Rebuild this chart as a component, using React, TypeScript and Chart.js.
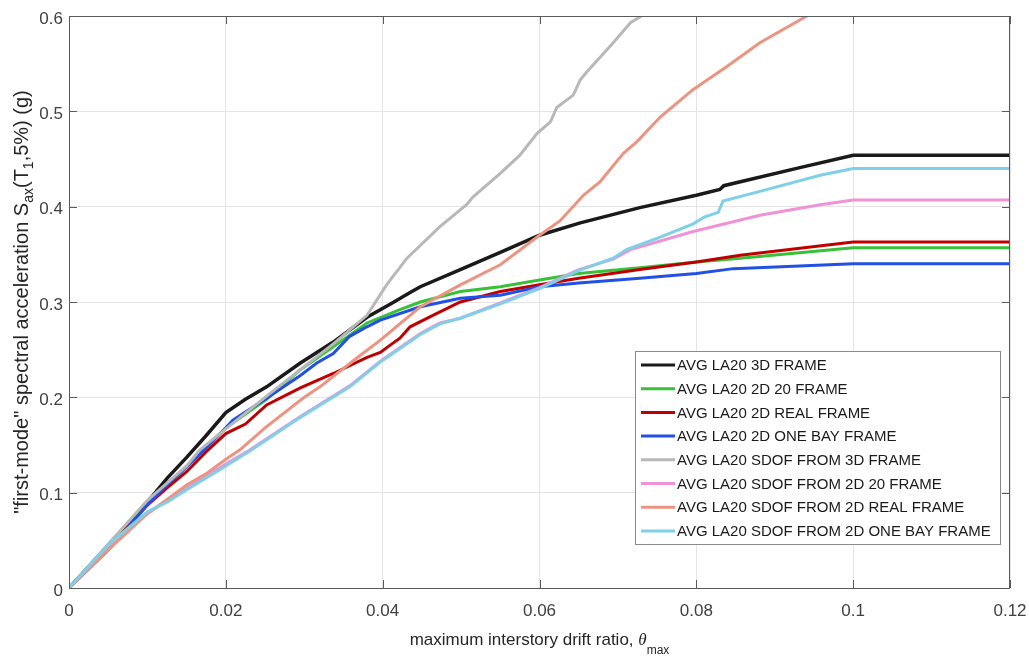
import React, { useEffect, useRef } from 'react';
import { Chart, registerables } from 'chart.js';

Chart.register(...registerables);

const xTicks = [0, 0.02, 0.04, 0.06, 0.08, 0.1, 0.12];
const yTicks = [0, 0.1, 0.2, 0.3, 0.4, 0.5, 0.6];

const seriesNames = [
  'AVG LA20 3D FRAME',
  'AVG LA20 2D 20 FRAME',
  'AVG LA20 2D REAL FRAME',
  'AVG LA20 2D ONE BAY FRAME',
  'AVG LA20 SDOF FROM 3D FRAME',
  'AVG LA20 SDOF FROM 2D 20 FRAME',
  'AVG LA20 SDOF FROM 2D REAL FRAME',
  'AVG LA20 SDOF FROM 2D ONE BAY FRAME',
];

const seriesColors = [
  '#1a1a1a',
  '#38c038',
  '#c00000',
  '#2150e6',
  '#b8b8b8',
  '#ef92d6',
  '#ec9480',
  '#7ecfe8',
];

const frame3D: [number, number][] = [
  [0, 0], [0.005, 0.045], [0.01, 0.09], [0.0125, 0.115], [0.015, 0.137], [0.0175, 0.16],
  [0.02, 0.184], [0.0225, 0.198], [0.0252, 0.211], [0.0295, 0.236], [0.0337, 0.258],
  [0.038, 0.284], [0.041, 0.298], [0.0435, 0.31], [0.0448, 0.316], [0.0499, 0.334], [0.055, 0.352],
  [0.06, 0.37], [0.0652, 0.383], [0.0728, 0.399], [0.08, 0.412], [0.083, 0.418],
  [0.0835, 0.422], [0.0932, 0.441], [0.1, 0.454], [0.12, 0.454],
];

const frame2D20: [number, number][] = [
  [0, 0], [0.005, 0.043], [0.01, 0.088], [0.0125, 0.108], [0.015, 0.128], [0.02, 0.168],
  [0.0252, 0.198], [0.0295, 0.229], [0.0337, 0.253], [0.038, 0.278], [0.0422, 0.292],
  [0.0448, 0.3], [0.0499, 0.311], [0.055, 0.316], [0.06, 0.323], [0.065, 0.33],
  [0.0728, 0.336], [0.08, 0.342], [0.0856, 0.346], [0.1, 0.357], [0.12, 0.357],
];

const frame2DReal: [number, number][] = [
  [0, 0], [0.005, 0.042], [0.01, 0.087], [0.0125, 0.105], [0.015, 0.122], [0.0175, 0.143],
  [0.02, 0.162], [0.0225, 0.172], [0.0252, 0.192], [0.0295, 0.21], [0.0337, 0.225],
  [0.038, 0.242], [0.0397, 0.247], [0.041, 0.255], [0.0422, 0.262], [0.0435, 0.274],
  [0.0464, 0.286], [0.0499, 0.3], [0.055, 0.311], [0.06, 0.318], [0.065, 0.325],
  [0.0728, 0.334], [0.08, 0.342], [0.0856, 0.349], [0.1, 0.363], [0.12, 0.363],
];

const frame2DOneBay: [number, number][] = [
  [0, 0], [0.005, 0.04], [0.01, 0.087], [0.0125, 0.108], [0.015, 0.127], [0.0175, 0.147],
  [0.02, 0.168], [0.0209, 0.176], [0.0252, 0.199], [0.0295, 0.223], [0.0316, 0.236],
  [0.0337, 0.246], [0.0358, 0.264], [0.038, 0.274], [0.0397, 0.281], [0.0448, 0.295],
  [0.0499, 0.304], [0.055, 0.307], [0.06, 0.316], [0.065, 0.32], [0.0728, 0.325],
  [0.08, 0.33], [0.0847, 0.335], [0.1, 0.34], [0.12, 0.34],
];

const sdofFrom3D: [number, number][] = [
  [0, 0], [0.005, 0.046], [0.01, 0.092], [0.0125, 0.11], [0.015, 0.128], [0.0167, 0.145],
  [0.02, 0.167], [0.025, 0.2], [0.0295, 0.229], [0.0337, 0.256], [0.038, 0.286],
  [0.0405, 0.318], [0.0431, 0.346], [0.0473, 0.379], [0.0507, 0.402], [0.0515, 0.41],
  [0.055, 0.435], [0.0575, 0.454], [0.0597, 0.477], [0.0614, 0.489], [0.0622, 0.504],
  [0.0643, 0.517], [0.0652, 0.533], [0.066, 0.541], [0.0694, 0.572], [0.0716, 0.593],
  [0.073, 0.6], [0.0745, 0.61],
];

const sdofFrom2D20: [number, number][] = [
  [0, 0], [0.005, 0.043], [0.01, 0.078], [0.0125, 0.092], [0.015, 0.105], [0.02, 0.13],
  [0.0231, 0.145], [0.0295, 0.18], [0.0358, 0.212], [0.0397, 0.238], [0.0448, 0.267],
  [0.0473, 0.278], [0.0499, 0.283], [0.055, 0.299], [0.06, 0.315], [0.065, 0.334],
  [0.0694, 0.345], [0.0716, 0.355], [0.0796, 0.374], [0.0881, 0.391], [0.0958, 0.402],
  [0.1, 0.407], [0.12, 0.407],
];

const sdofFrom2DReal: [number, number][] = [
  [0, 0], [0.005, 0.04], [0.01, 0.078], [0.0125, 0.093], [0.015, 0.108], [0.0175, 0.12],
  [0.02, 0.135], [0.0218, 0.145], [0.025, 0.168], [0.03, 0.2], [0.032, 0.211],
  [0.0365, 0.24], [0.0397, 0.26], [0.0448, 0.295], [0.0499, 0.318], [0.055, 0.339],
  [0.06, 0.37], [0.0626, 0.385], [0.0656, 0.412], [0.0677, 0.426], [0.0707, 0.456],
  [0.0724, 0.468], [0.0754, 0.494], [0.0796, 0.523], [0.0839, 0.547], [0.0881, 0.572],
  [0.0941, 0.6], [0.096, 0.608],
];

const sdofFrom2DOneBay: [number, number][] = [
  [0, 0], [0.005, 0.045], [0.01, 0.08], [0.0125, 0.09], [0.015, 0.103], [0.02, 0.128],
  [0.0231, 0.144], [0.0295, 0.179], [0.0358, 0.211], [0.0397, 0.237], [0.0448, 0.266],
  [0.0473, 0.277], [0.0499, 0.283], [0.055, 0.298], [0.06, 0.314], [0.065, 0.333],
  [0.0694, 0.346], [0.0711, 0.355], [0.0754, 0.368], [0.0796, 0.382], [0.081, 0.389],
  [0.0828, 0.394], [0.0834, 0.406], [0.0881, 0.416], [0.0958, 0.433], [0.1, 0.44],
  [0.12, 0.44],
];

const seriesData = [
  frame3D, frame2D20, frame2DReal, frame2DOneBay,
  sdofFrom3D, sdofFrom2D20, sdofFrom2DReal, sdofFrom2DOneBay,
];

const FONT = '"Liberation Sans", Arial, Helvetica, sans-serif';

const framePlugin = {
  id: 'matlabFrame',
  afterDatasetsDraw(chart: any) {
    const { ctx, chartArea: a, scales } = chart;
    ctx.save();
    // box
    ctx.strokeStyle = '#5a5a5a';
    ctx.lineWidth = 1;
    ctx.strokeRect(a.left + 0.5, a.top + 0.5, a.right - a.left - 1, a.bottom - a.top);
    // inward ticks
    const tl = 8;
    ctx.beginPath();
    xTicks.forEach((t) => {
      const px = Math.round(scales.x.getPixelForValue(t)) + 0.5;
      ctx.moveTo(px, a.bottom); ctx.lineTo(px, a.bottom - tl);
      ctx.moveTo(px, a.top); ctx.lineTo(px, a.top + tl);
    });
    yTicks.forEach((t) => {
      const py = Math.round(scales.y.getPixelForValue(t)) + 0.5;
      ctx.moveTo(a.left, py); ctx.lineTo(a.left + tl, py);
      ctx.moveTo(a.right, py); ctx.lineTo(a.right - tl, py);
    });
    ctx.stroke();

    // legend
    const lw = 365, lh = 193;
    const lx = a.right - 10 - lw;
    const ly = a.bottom - 44 - lh;
    ctx.fillStyle = '#ffffff';
    ctx.fillRect(lx, ly, lw, lh);
    ctx.strokeStyle = '#8a8a8a';
    ctx.strokeRect(lx + 0.5, ly + 0.5, lw, lh);
    ctx.font = `15px ${FONT}`;
    ctx.textBaseline = 'middle';
    ctx.textAlign = 'left';
    seriesNames.forEach((name, i) => {
      const ry = ly + 14 + i * 23.7;
      ctx.strokeStyle = seriesColors[i];
      ctx.lineWidth = 3;
      ctx.beginPath();
      ctx.moveTo(lx + 6, ry);
      ctx.lineTo(lx + 40, ry);
      ctx.stroke();
      ctx.fillStyle = '#1a1a1a';
      ctx.fillText(name, lx + 42, ry + 1);
    });

    // y title
    const cy = (a.top + a.bottom) / 2;
    const yParts = [
      { t: '"first-mode" spectral acceleration S', sub: false },
      { t: 'ax', sub: true },
      { t: '(T', sub: false },
      { t: '1', sub: true },
      { t: ',5%) (g)', sub: false },
    ];
    const mainF = `20px ${FONT}`;
    const subF = `14px ${FONT}`;
    let total = 0;
    yParts.forEach((p) => { ctx.font = p.sub ? subF : mainF; total += ctx.measureText(p.t).width; });
    ctx.save();
    ctx.translate(28, cy);
    ctx.rotate(-Math.PI / 2);
    ctx.fillStyle = '#262626';
    ctx.textBaseline = 'alphabetic';
    let x = -total / 2;
    yParts.forEach((p) => {
      ctx.font = p.sub ? subF : mainF;
      ctx.fillText(p.t, x, p.sub ? 5 : 0);
      x += ctx.measureText(p.t).width;
    });
    ctx.restore();

    // x title
    const xParts = [
      { t: 'maximum interstory drift ratio, ', f: `17px ${FONT}`, dy: 0 },
      { t: 'θ', f: `italic 17px "Liberation Serif", "Times New Roman", serif`, dy: 0 },
      { t: 'max', f: `12px ${FONT}`, dy: 9 },
    ];
    let tw = 0;
    xParts.forEach((p) => { ctx.font = p.f; tw += ctx.measureText(p.t).width; });
    let xx = (a.left + a.right) / 2 - tw / 2;
    ctx.fillStyle = '#262626';
    ctx.textBaseline = 'alphabetic';
    xParts.forEach((p) => {
      ctx.font = p.f;
      ctx.fillText(p.t, xx, 645 + p.dy);
      xx += ctx.measureText(p.t).width;
    });
    ctx.restore();
  },
};

export default function App() {
  const ref = useRef<HTMLCanvasElement | null>(null);

  useEffect(() => {
    if (!ref.current) return;
    const datasets = seriesData.map((pts, i) => ({
      label: seriesNames[i],
      data: pts.map(([x, y]) => ({ x, y })),
      borderColor: seriesColors[i],
      backgroundColor: seriesColors[i],
      borderWidth: i === 0 ? 3.5 : 3,
      pointRadius: 0,
      tension: 0,
      fill: false,
      clip: 0,
      order: seriesData.length - i,
    }));
    const chart = new Chart(ref.current, {
      type: 'line',
      data: { datasets },
      options: {
        animation: false,
        responsive: false,
        devicePixelRatio: 1,
        layout: { padding: { left: 8, right: 19, top: 16, bottom: 0 } },
        plugins: { legend: { display: false }, tooltip: { enabled: false } },
        scales: {
          x: {
            type: 'linear',
            min: 0,
            max: 0.12,
            afterBuildTicks: (s: any) => { s.ticks = xTicks.map((v) => ({ value: v })); },
            afterFit: (s: any) => { s.height = 69; s.paddingLeft = 0; s.paddingRight = 0; },
            grid: { color: '#e4e4e4', drawTicks: false },
            border: { display: false },
            ticks: {
              font: { family: FONT, size: 17 },
              color: '#404040',
              padding: 13,
              maxRotation: 0,
              autoSkip: false,
              callback: (v: any) => String(parseFloat(Number(v).toFixed(2))),
            },
          },
          y: {
            type: 'linear',
            min: 0,
            max: 0.6,
            afterBuildTicks: (s: any) => { s.ticks = yTicks.map((v) => ({ value: v })); },
            afterFit: (s: any) => { s.width = 61; s.paddingTop = 0; s.paddingBottom = 0; },
            grid: { color: '#e4e4e4', drawTicks: false },
            border: { display: false },
            ticks: {
              font: { family: FONT, size: 17 },
              color: '#404040',
              padding: 6,
              labelOffset: 3,
              autoSkip: false,
              callback: (v: any) => String(parseFloat(Number(v).toFixed(1))),
            },
          },
        },
      },
      plugins: [framePlugin],
    } as any);
    return () => chart.destroy();
  }, []);

  return (
    <div style={{ position: 'fixed', left: 0, top: 0, width: 1029, height: 657, background: '#fff' }}>
      <canvas ref={ref} width={1029} height={657} style={{ display: 'block' }} />
    </div>
  );
}
